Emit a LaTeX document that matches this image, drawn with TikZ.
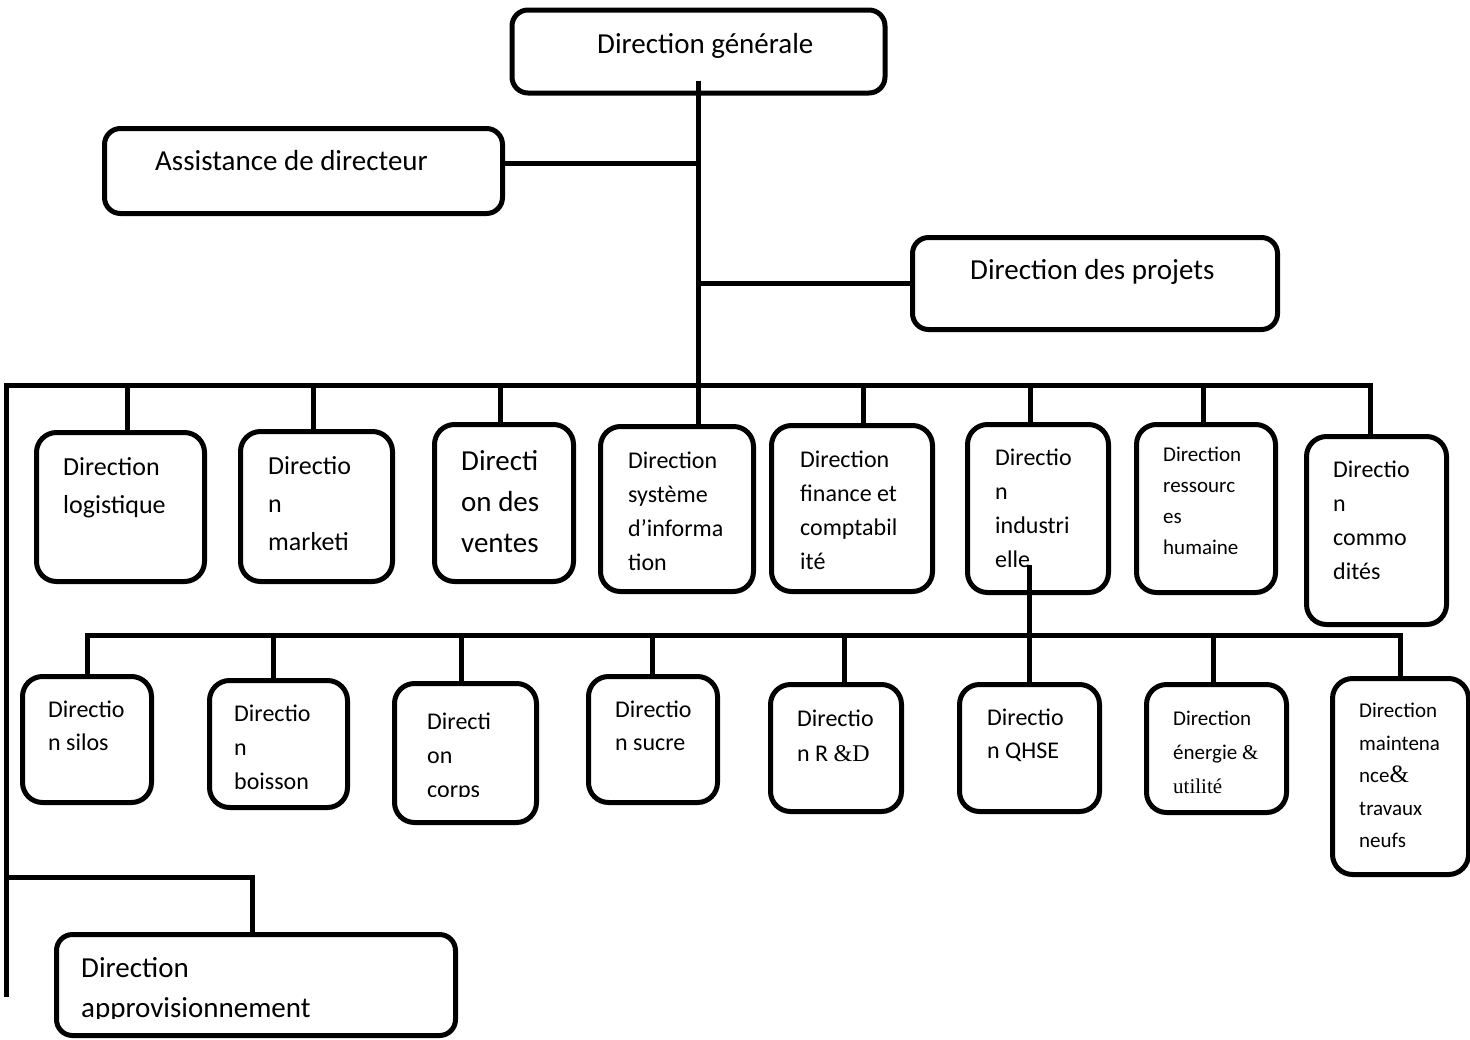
\documentclass[tikz,border=0pt]{standalone}
\usepackage{fontspec}
\setmainfont{Carlito}
\newfontfamily\timesfont{Liberation Serif}

\tikzset{
  box/.style={draw, line width=5pt, rounded corners=20pt, anchor=north west, inner sep=0pt},
  conn/.style={line width=5pt},
  lbl/.style={anchor=north west, inner sep=0pt, align=left},
  sizeL/.style={font=\fontsize{29}{41}\selectfont},
  sizeM/.style={font=\fontsize{26}{38}\selectfont},
  sizeS/.style={font=\fontsize{24}{34}\selectfont},
  sizeXS/.style={font=\fontsize{21}{31}\selectfont},
}

\begin{document}
\begin{tikzpicture}[x=1pt, y=-1pt]
\useasboundingbox (0,0) rectangle (1470,1039);

\node[box, rounded corners=16pt, minimum width=373pt, minimum height=83pt] (gen) at (509.5,7.5) {};
\node[box, rounded corners=16pt, minimum width=398pt, minimum height=85pt] (asst) at (102,126) {};
\node[box, rounded corners=16pt, minimum width=365pt, minimum height=92pt] (proj) at (910,235) {};

\node[box, minimum width=168pt, minimum height=149pt] (logi) at (34,430) {};
\node[box, minimum width=152pt, minimum height=150pt] (mark) at (238,429) {};
\node[box, minimum width=139pt, minimum height=157pt] (vent) at (432,422) {};
\node[box, minimum width=153pt, minimum height=165pt] (sysi) at (598,424) {};
\node[box, minimum width=161pt, minimum height=166pt] (fina) at (769,423) {};
\node[box, minimum width=141pt, minimum height=168pt] (indu) at (965,422) {};
\node[box, minimum width=139pt, minimum height=168pt] (rh) at (1134,422) {};
\node[box, minimum width=140pt, minimum height=188pt] (comm) at (1304,434) {};

\node[box, minimum width=129pt, minimum height=126pt] (silo) at (20,674) {};
\node[box, minimum width=138pt, minimum height=127pt] (bois) at (207,678) {};
\node[box, minimum width=142pt, minimum height=139pt] (corp) at (392,681) {};
\node[box, minimum width=129pt, minimum height=126pt] (sucr) at (586,674) {};
\node[box, minimum width=131pt, minimum height=127pt] (rd) at (768,682) {};
\node[box, minimum width=140pt, minimum height=127pt] (qhse) at (957,682) {};
\node[box, minimum width=140pt, minimum height=128pt] (ener) at (1144,682) {};
\node[box, minimum width=136pt, minimum height=196pt] (maint) at (1330,676) {};

\node[box, rounded corners=16pt, minimum width=399pt, minimum height=101pt] (appr) at (54,932) {};

\node[lbl, sizeL] (gen-t) at (597,25) {\strut Direction générale};
\node[lbl, sizeL] (asst-t) at (155,142) {\strut Assistance de directeur};
\node[lbl, sizeL] (proj-t) at (970,251) {\strut Direction des projets};

\node[lbl, sizeM] (logi-t) at (63,449) {\strut Direction\\logistique};
\node[lbl, sizeM] (mark-t) at (268,448) {\strut Directio\\n\\marketi};
\node[lbl, sizeL] (vent-t) at (461,442) {\strut Directi\\on des\\ventes};
\node[lbl, sizeS] (sysi-t) at (628,444) {\strut Direction\\système\\d’informa\\tion};
\node[lbl, sizeS] (fina-t) at (800,443) {\strut Direction\\finance et\\comptabil\\ité};
\node[lbl, sizeS] (indu-t) at (995,441) {\strut Directio\\n\\industri\\elle};
\node[lbl, sizeXS] (rh-t) at (1163,440) {\strut Direction\\ressourc\\es\\humaine};
\node[lbl, sizeS] (comm-t) at (1333,453) {\strut Directio\\n\\commo\\dités};

\node[lbl, font=\fontsize{24}{33}\selectfont] (silo-t) at (48,694) {\strut Directio\\n silos};
\node[lbl, sizeS] (bois-t) at (234,697) {\strut Directio\\n\\boisson};
\begin{scope}
\clip (395,690) rectangle (535,796);
\node[lbl, sizeS] (corp-t) at (427,705) {\strut Directi\\on\\corps};
\end{scope}
\node[lbl, font=\fontsize{24}{33}\selectfont] (sucr-t) at (615,694) {\strut Directio\\n sucre};
\node[lbl, font=\fontsize{24}{35}\selectfont] (rd-t) at (797,702) {\strut Directio\\n R {\timesfont\&D}};
\node[lbl, font=\fontsize{24}{33}\selectfont] (qhse-t) at (987,702) {\strut Directio\\n QHSE};
\node[lbl, font=\fontsize{21}{34}\selectfont] (ener-t) at (1173,701) {\strut Direction\\énergie {\timesfont\&}\\{\timesfont utilité}};
\node[lbl, font=\fontsize{21}{32.5}\selectfont] (maint-t) at (1359,695) {\strut Direction\\maintena\\nce{\timesfont\fontsize{25}{32.5}\selectfont\&}\\travaux\\neufs};
\begin{scope}
\clip (60,940) rectangle (450,1018);
\node[lbl, font=\fontsize{29}{40}\selectfont] (appr-t) at (81,949) {\strut Direction\\approvisionnement};
\end{scope}

\coordinate (busL) at (6,385);
\coordinate (busR) at (1370,385);
\coordinate (sub) at (700,635);
\coordinate (branch) at (6,877);
\coordinate (leftEnd) at (6,997);

\draw[conn] ([yshift=15pt]gen.south) -- (gen.south |- sysi.north);
\draw[conn] ([yshift=8pt]asst.east) -- ([yshift=8pt]asst.east -| gen.south);
\draw[conn] (proj.west -| gen.south) -- (proj.west);
\draw[conn] (leftEnd) -- (busL) -- (busR) -- (busR |- comm.north);
\foreach \b/\s in {logi/7, mark/-3, vent/-4, fina/11, indu/-8, rh/-3}
  \draw[conn] ([xshift=\s pt]\b.north) -- ([xshift=\s pt]\b.north |- busL);

\draw[conn] (silo.north) -- (silo.north |- sub) -- (maint.north |- sub) -- (maint.north);
\foreach \b/\s in {bois/-5, corp/-4, sucr/-1, rd/8, ener/-3}
  \draw[conn] ([xshift=\s pt]\b.north) -- ([xshift=\s pt]\b.north |- sub);
\draw[conn] (qhse.north) -- ([yshift=30pt]qhse.north |- indu.south);

\draw[conn] (branch) -| ([xshift=-4pt]appr.north);
\end{tikzpicture}
\end{document}
